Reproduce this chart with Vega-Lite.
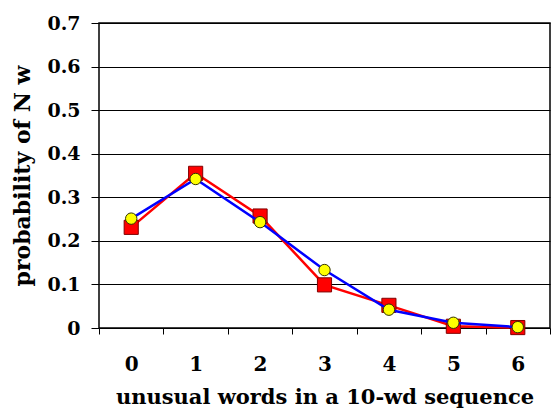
{
  "$schema": "https://vega.github.io/schema/vega-lite/v6.json",
  "width": 451,
  "height": 305,
  "autosize": {"type": "none"},
  "padding": {"left": 99, "top": 23, "right": 6, "bottom": 84},
  "background": "white",
  "config": {
    "view": {"stroke": "#000", "strokeWidth": 1.5},
    "font": "DejaVu Serif"
  },
  "data": {
    "values": [
      {"k": "0", "series": "observed", "p": 0.231},
      {"k": "1", "series": "observed", "p": 0.355},
      {"k": "2", "series": "observed", "p": 0.257},
      {"k": "3", "series": "observed", "p": 0.099},
      {"k": "4", "series": "observed", "p": 0.052},
      {"k": "5", "series": "observed", "p": 0.004},
      {"k": "6", "series": "observed", "p": 0.001},
      {"k": "0", "series": "model", "p": 0.251},
      {"k": "1", "series": "model", "p": 0.342},
      {"k": "2", "series": "model", "p": 0.243},
      {"k": "3", "series": "model", "p": 0.133},
      {"k": "4", "series": "model", "p": 0.042},
      {"k": "5", "series": "model", "p": 0.012},
      {"k": "6", "series": "model", "p": 0.002}
    ]
  },
  "encoding": {
    "x": {
      "field": "k",
      "type": "ordinal",
      "scale": {"type": "band", "paddingInner": 0, "paddingOuter": 0},
      "axis": {
        "title": "unusual words in a 10-wd sequence",
        "tickBand": "extent",
        "labelAngle": 0,
        "labelFont": "DejaVu Serif",
        "labelFontSize": 20,
        "labelFontWeight": "bold",
        "labelColor": "#000",
        "labelPadding": 20,
        "tickSize": 6,
        "tickColor": "#000",
        "domain": false,
        "titleFont": "DejaVu Serif",
        "titleFontSize": 21,
        "titleFontWeight": "bold",
        "titleColor": "#000",
        "titlePadding": 12
      }
    },
    "y": {
      "field": "p",
      "type": "quantitative",
      "scale": {"domain": [0, 0.7], "nice": false},
      "axis": {
        "title": "probability of N w",
        "values": [0, 0.1, 0.2, 0.3, 0.4, 0.5, 0.6, 0.7],
        "format": "~g",
        "grid": true,
        "gridColor": "#000",
        "gridWidth": 1.2,
        "gridOpacity": 1,
        "domain": false,
        "tickSize": 8,
        "tickColor": "#000",
        "labelFont": "DejaVu Serif",
        "labelFontSize": 19,
        "labelFontWeight": "bold",
        "labelColor": "#000",
        "labelPadding": 11,
        "titleFont": "DejaVu Serif",
        "titleFontSize": 22,
        "titleFontWeight": "bold",
        "titleColor": "#000",
        "titlePadding": 12
      }
    }
  },
  "layer": [
    {
      "transform": [{"filter": "datum.series === 'observed'"}],
      "mark": {"type": "line", "color": "#ff0000", "strokeWidth": 2.5}
    },
    {
      "transform": [{"filter": "datum.series === 'observed'"}],
      "mark": {"type": "point", "shape": "square", "filled": true, "fill": "#ff0000", "stroke": "#800000", "strokeWidth": 1, "size": 200, "opacity": 1}
    },
    {
      "transform": [{"filter": "datum.series === 'model'"}],
      "mark": {"type": "line", "color": "#0000ff", "strokeWidth": 2.5}
    },
    {
      "transform": [{"filter": "datum.series === 'model'"}],
      "mark": {"type": "point", "shape": "circle", "filled": true, "fill": "#ffff00", "stroke": "#333300", "strokeWidth": 1, "size": 130, "opacity": 1}
    }
  ]
}
